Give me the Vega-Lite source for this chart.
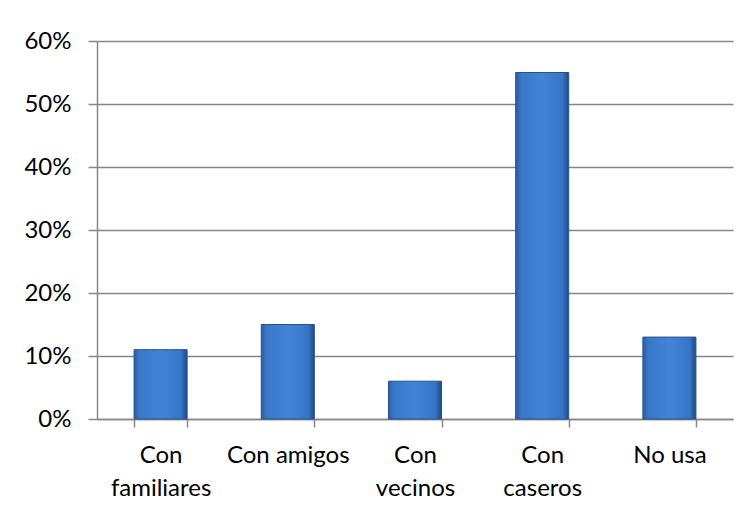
{
  "$schema": "https://vega.github.io/schema/vega-lite/v6.json",
  "width": 636,
  "height": 378,
  "autosize": {"type": "none"},
  "padding": {"left": 97, "top": 41, "right": 18, "bottom": 93},
  "background": "#ffffff",
  "config": {
    "view": {"stroke": null},
    "font": "Lato",
    "axis": {
      "labelFont": "Lato",
      "labelFontSize": 24,
      "labelColor": "#000000",
      "domainColor": "#868686",
      "domainWidth": 1.5,
      "tickColor": "#868686",
      "tickWidth": 1.5,
      "gridColor": "#868686",
      "gridWidth": 1.5,
      "gridOpacity": 1,
      "title": null
    }
  },
  "data": {
    "values": [
      {"uso": "Con familiares", "porcentaje": 0.11},
      {"uso": "Con amigos", "porcentaje": 0.15},
      {"uso": "Con vecinos", "porcentaje": 0.06},
      {"uso": "Con caseros", "porcentaje": 0.55},
      {"uso": "No usa", "porcentaje": 0.13}
    ]
  },
  "mark": {
    "type": "bar",
    "stroke": "#24528f",
    "strokeWidth": 1,
    "color": {
      "gradient": "linear",
      "x1": 0, "x2": 1, "y1": 0, "y2": 0,
      "stops": [
        {"offset": 0, "color": "#2a5c9e"},
        {"offset": 0.1, "color": "#3978c8"},
        {"offset": 0.5, "color": "#4184d6"},
        {"offset": 0.88, "color": "#3776c6"},
        {"offset": 1, "color": "#1f4a85"}
      ]
    }
  },
  "encoding": {
    "x": {
      "field": "uso",
      "type": "nominal",
      "sort": null,
      "scale": {"paddingInner": 0.583, "paddingOuter": 0.2915},
      "axis": {
        "labelAngle": 0,
        "tickBand": "extent",
        "tickSize": 8,
        "labelPadding": 16,
        "labelLineHeight": 33,
        "labelBaseline": "top",
        "labelExpr": "datum.label == 'Con amigos' || datum.label == 'No usa' ? datum.label : split(datum.label, ' ')"
      }
    },
    "y": {
      "field": "porcentaje",
      "type": "quantitative",
      "scale": {"domain": [0, 0.6], "nice": false},
      "axis": {
        "values": [0, 0.1, 0.2, 0.3, 0.4, 0.5, 0.6],
        "format": ".0%",
        "tickSize": 9,
        "labelPadding": 17,
        "grid": true
      }
    }
  }
}
